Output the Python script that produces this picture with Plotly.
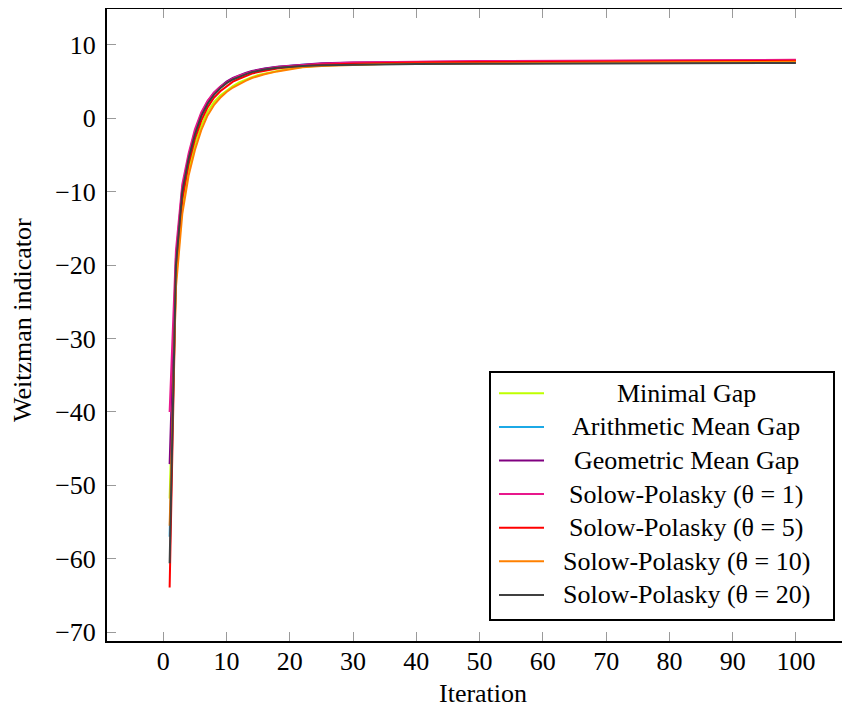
import plotly.graph_objects as go

# ---------------- data ----------------
iterations = [1, 2, 3, 4, 5, 6, 7, 8, 9, 10, 11, 12, 13, 14, 15, 16, 18, 20, 22, 25,
              30, 35, 40, 50, 60, 70, 80, 90, 100]

minimal_gap = [-51.8, -22.0, -12.0, -7.0, -3.6, -1.0, 0.9, 2.2, 3.1, 3.8, 4.4, 4.9, 5.3, 5.6,
               5.9, 6.1, 6.5, 6.8, 7.0, 7.2, 7.35, 7.45, 7.5, 7.58, 7.63, 7.67, 7.7, 7.72, 7.75]
arithmetic_gap = [-57.0, -20.0, -10.0, -5.5, -2.0, 0.4, 2.1, 3.3, 4.2, 4.9, 5.4, 5.8, 6.1, 6.4,
                  6.6, 6.75, 7.0, 7.15, 7.3, 7.4, 7.5, 7.58, 7.62, 7.68, 7.72, 7.75, 7.78, 7.8, 7.82]
geometric_gap = [-47.1, -19.0, -9.5, -5.2, -1.8, 0.6, 2.3, 3.5, 4.3, 5.0, 5.5, 5.9, 6.2, 6.45,
                 6.65, 6.8, 7.05, 7.2, 7.35, 7.5, 7.6, 7.65, 7.7, 7.75, 7.8, 7.83, 7.86, 7.88, 7.9]
sp_theta1 = [-40.0, -18.0, -9.0, -4.8, -1.5, 0.8, 2.4, 3.5, 4.3, 4.9, 5.4, 5.8, 6.1, 6.35,
             6.55, 6.7, 7.0, 7.15, 7.3, 7.45, 7.6, 7.68, 7.73, 7.8, 7.85, 7.9, 7.93, 7.96, 7.98]
sp_theta5 = [-63.9, -21.0, -11.0, -6.2, -2.8, -0.3, 1.5, 2.8, 3.7, 4.4, 5.0, 5.4, 5.8, 6.1,
             6.3, 6.5, 6.8, 7.0, 7.15, 7.3, 7.45, 7.55, 7.6, 7.68, 7.73, 7.77, 7.8, 7.83, 7.85]
sp_theta10 = [-55.5, -23.0, -13.0, -7.8, -4.3, -1.6, 0.4, 1.8, 2.8, 3.6, 4.2, 4.7, 5.1, 5.5,
              5.8, 6.0, 6.4, 6.7, 6.95, 7.15, 7.3, 7.4, 7.45, 7.52, 7.58, 7.62, 7.65, 7.68, 7.7]
sp_theta20 = [-60.6, -20.0, -10.0, -5.5, -2.2, 0.3, 2.0, 3.2, 4.1, 4.8, 5.3, 5.7, 6.0, 6.3,
              6.5, 6.65, 6.9, 7.05, 7.15, 7.25, 7.32, 7.36, 7.4, 7.44, 7.47, 7.5, 7.52, 7.53, 7.55]

series_names = ["Minimal Gap", "Arithmetic Mean Gap", "Geometric Mean Gap",
                "Solow-Polasky (θ = 1)", "Solow-Polasky (θ = 5)",
                "Solow-Polasky (θ = 10)", "Solow-Polasky (θ = 20)"]
series_values = [minimal_gap, arithmetic_gap, geometric_gap, sp_theta1, sp_theta5,
                 sp_theta10, sp_theta20]
series_colors = ["#bfff00", "#1ca9e6", "#800080", "#e8188c", "#ff0000", "#ff8000", "#404040"]

x_ticks = [0, 10, 20, 30, 40, 50, 60, 70, 80, 90, 100]
y_ticks = [-70, -60, -50, -40, -30, -20, -10, 0, 10]

# ---------------- layout geometry (screen pixels; page body has an 8px margin) ----------------
OFF = 8
W, H = 850 - OFF, 713 - 2 * OFF
L, R, T, B = 107, 850, 9, 641          # plot area on screen
FONT = "Liberation Serif"


def px_x(p):
    return (p - L) / (R - L)


def px_y(p):
    return (B - p) / (B - T)


fig = go.Figure()
for name, vals, col in zip(series_names, series_values, series_colors):
    fig.add_trace(go.Scatter(x=iterations, y=vals, mode="lines", name=name,
                             line=dict(color=col, width=2), showlegend=False))

axis_common = dict(showgrid=False, zeroline=False, ticks="inside", ticklen=9,
                   tickwidth=1, tickcolor="#9a9a9a", automargin=False,
                   tickfont=dict(family=FONT, size=26, color="black"))

fig.update_layout(
    width=W, height=H,
    margin=dict(l=L - OFF, r=(OFF + W) - R, t=T - OFF, b=(OFF + H) - B, autoexpand=False),
    plot_bgcolor="white", paper_bgcolor="white",
    font=dict(family=FONT, size=25, color="black"),
    xaxis=dict(range=[-8.9, 108.55], tickvals=x_ticks, showline=True, linewidth=2,
               linecolor="black", mirror="ticks", ticklabelstandoff=-4, **axis_common),
    yaxis=dict(range=[-71.2, 14.9], tickvals=y_ticks, showline=True, linewidth=2,
               linecolor="black", mirror=False, ticklabelstandoff=4, **axis_common),
    yaxis2=dict(overlaying="y", side="right", matches="y", tickvals=y_ticks,
                showticklabels=False, showline=False, showgrid=False, zeroline=False,
                automargin=False,
                ticks="inside", ticklen=3, tickwidth=1, tickcolor="#9a9a9a"),
)

# axis titles
fig.add_annotation(text="Iteration", xref="paper", yref="paper", x=px_x(483), y=px_y(693),
                   xanchor="center", yanchor="middle", showarrow=False,
                   font=dict(family=FONT, size=26, color="black"))
fig.add_annotation(text="Weitzman indicator", xref="paper", yref="paper", x=px_x(22),
                   y=px_y(320), xanchor="center", yanchor="middle", textangle=-90,
                   showarrow=False, font=dict(family=FONT, size=26, color="black"))

# legend box
fig.add_shape(type="rect", xref="paper", yref="paper", x0=px_x(490), x1=px_x(834),
              y0=px_y(620), y1=px_y(372), line=dict(color="black", width=2),
              fillcolor="white", layer="above")
first_y, step = 393.3, 33.6
for i, (name, col) in enumerate(zip(series_names, series_colors)):
    yy = first_y + i * step
    fig.add_shape(type="line", xref="paper", yref="paper", x0=px_x(499), x1=px_x(544),
                  y0=px_y(yy), y1=px_y(yy), line=dict(color=col, width=2), layer="above")
    fig.add_annotation(text=name, xref="paper", yref="paper", x=px_x(686), y=px_y(yy),
                       xanchor="center", yanchor="middle", showarrow=False,
                       font=dict(family=FONT, size=26, color="black"))

fig.write_html("out.html")
